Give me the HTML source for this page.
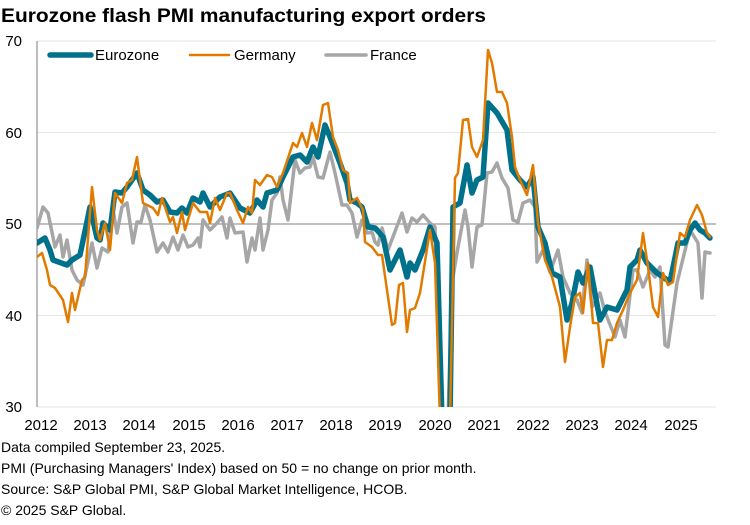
<!DOCTYPE html>
<html><head><meta charset="utf-8"><style>
body{margin:0;background:#fff;width:750px;height:520px;overflow:hidden;font-family:"Liberation Sans",Arial,sans-serif}
</style></head><body>
<svg width="750" height="520" viewBox="0 0 750 520" xmlns="http://www.w3.org/2000/svg" font-family="Liberation Sans, Arial, sans-serif">
<text x="1" y="22" font-size="19.5" font-weight="bold" fill="#000" textLength="485" lengthAdjust="spacingAndGlyphs">Eurozone flash PMI manufacturing export orders</text>
<g stroke="#e6e6e6" stroke-width="1">
<line x1="37" y1="41" x2="716" y2="41"/><line x1="37" y1="132.5" x2="716" y2="132.5"/><line x1="37" y1="315.5" x2="716" y2="315.5"/><line x1="37" y1="407" x2="716" y2="407"/>
</g>
<line x1="37" y1="224" x2="716" y2="224" stroke="#808080" stroke-width="1"/>
<line x1="37" y1="41" x2="37" y2="407" stroke="#a6a6a6" stroke-width="1.5"/>
<g font-size="15" fill="#000" text-anchor="end">
<text x="22" y="46">70</text><text x="22" y="138">60</text><text x="22" y="229">50</text><text x="22" y="321">40</text><text x="22" y="412">30</text>
</g>
<g font-size="15" fill="#000" text-anchor="middle">
<text x="41" y="430">2012</text><text x="90" y="430">2013</text><text x="139" y="430">2014</text><text x="189" y="430">2015</text><text x="238" y="430">2016</text><text x="287" y="430">2017</text><text x="336" y="430">2018</text><text x="385" y="430">2019</text><text x="435" y="430">2020</text><text x="484" y="430">2021</text><text x="533" y="430">2022</text><text x="582" y="430">2023</text><text x="631" y="430">2024</text><text x="681" y="430">2025</text>
</g>
<defs><clipPath id="c"><rect x="37" y="30" width="690" height="377"/></clipPath></defs>
<g clip-path="url(#c)" fill="none" stroke-linejoin="round" stroke-linecap="round">
<polyline stroke="#a6a6a6" stroke-width="3.5" points="37,228 43,207 48,213 55,247 60,235 63,257 67,240 72,270 77,280 83,285 92,243 97,268 102,248 108,252 113,210 117,233 122,207 127,203 133,243 137,222 141,222 145,205 150,220 157,252 163,243 168,252 173,237 178,250 183,235 188,247 193,245 198,238 200,247 203,220 210,230 217,223 222,217 227,238 230,218 235,233 243,232 247,262 252,238 255,250 260,218 263,250 268,230 272,200 277,193 280,177 283,200 288,220 295,160 300,173 305,168 310,167 313,157 318,177 323,178 330,152 335,173 342,205 347,205 352,213 357,237 362,220 367,233 372,232 375,242 378,245 382,228 388,250 402,213 407,232 412,218 417,222 423,215 430,223 435,227 442,420 448,420 452,283 458,247 465,210 468,227 472,267 477,227 482,225 487,173 492,172 497,163 502,178 508,188 513,220 518,222 523,203 530,200 535,207 537,262 543,250 550,272 558,250 563,277 570,293 577,300 582,313 587,260 592,307 600,293 605,312 615,337 620,320 625,337 633,270 637,270 643,287 650,270 655,277 660,267 665,345 668,347 677,283 690,230 698,243 702,298 705,252 710,253"/>
<polyline stroke="#00718b" stroke-width="5.5" points="37,243 45,238 50,250 53,260 67,265 72,260 80,255 90,207 97,238 100,240 103,223 110,230 115,192 122,193 127,187 137,173 143,190 150,195 157,202 163,200 170,212 177,213 182,208 187,213 193,198 200,202 203,193 210,207 220,197 230,193 240,208 250,213 257,200 263,207 267,193 277,190 283,177 293,157 300,155 307,162 313,147 318,157 325,125 330,137 340,163 347,183 350,200 357,203 362,207 368,227 375,228 377,230 383,237 390,270 400,250 407,277 410,263 415,270 423,250 430,227 437,243 442,420 450,420 453,207 460,203 467,165 472,193 477,180 483,177 488,103 497,113 507,130 512,170 520,180 527,187 533,177 538,227 545,243 552,273 560,277 567,320 572,303 578,272 583,283 590,267 600,320 607,307 617,310 627,290 630,267 637,260 640,250 647,263 657,273 663,277 670,282 678,243 685,243 690,230 695,223 700,230 705,233 710,238"/>
<polyline stroke="#e07b00" stroke-width="2.5" points="37,257 42,253 47,270 50,285 55,288 63,300 68,322 72,293 75,310 82,280 85,277 92,187 97,230 100,240 105,223 110,250 115,193 122,203 127,183 132,180 137,157 143,203 153,208 158,215 162,198 170,222 173,217 177,233 182,212 185,230 193,203 200,212 207,212 210,223 215,198 220,210 227,193 230,193 237,210 243,223 248,207 252,213 255,180 260,185 267,175 272,177 277,187 283,173 293,143 297,147 302,133 307,147 312,123 317,140 323,105 328,103 333,137 338,150 343,170 348,173 350,203 357,198 363,210 365,242 372,247 378,255 382,255 392,325 395,323 399,285 403,283 407,332 410,310 415,308 420,293 430,230 435,263 440,420 450,420 455,178 458,173 463,120 468,119 472,147 477,157 483,140 488,50 492,63 497,92 502,92 507,103 512,137 515,167 520,180 527,195 533,165 538,223 545,260 552,277 560,307 565,362 570,327 575,297 580,293 583,313 588,263 593,323 598,323 603,367 607,340 612,340 617,323 623,310 630,293 637,280 643,233 648,267 653,307 658,317 663,273 668,285 673,282 680,233 685,237 690,220 697,205 702,215 707,233 710,237"/>
</g>
<g stroke-linecap="round">
<line x1="50" y1="55" x2="91" y2="55" stroke="#00718b" stroke-width="5.5"/>
<line x1="190" y1="55" x2="229" y2="55" stroke="#e07b00" stroke-width="2.5"/>
<line x1="326" y1="55" x2="366" y2="55" stroke="#a6a6a6" stroke-width="3.5"/>
</g>
<g font-size="15" fill="#000">
<text x="95" y="60">Eurozone</text><text x="234" y="60">Germany</text><text x="370" y="60">France</text>
</g>
<g font-size="14" fill="#000">
<text x="1" y="452">Data compiled September 23, 2025.</text>
<text x="1" y="473">PMI (Purchasing Managers' Index) based on 50 = no change on prior month.</text>
<text x="1" y="494">Source: S&amp;P Global PMI, S&amp;P Global Market Intelligence, HCOB.</text>
<text x="1" y="515">© 2025 S&amp;P Global.</text>
</g>
</svg>
</body></html>
